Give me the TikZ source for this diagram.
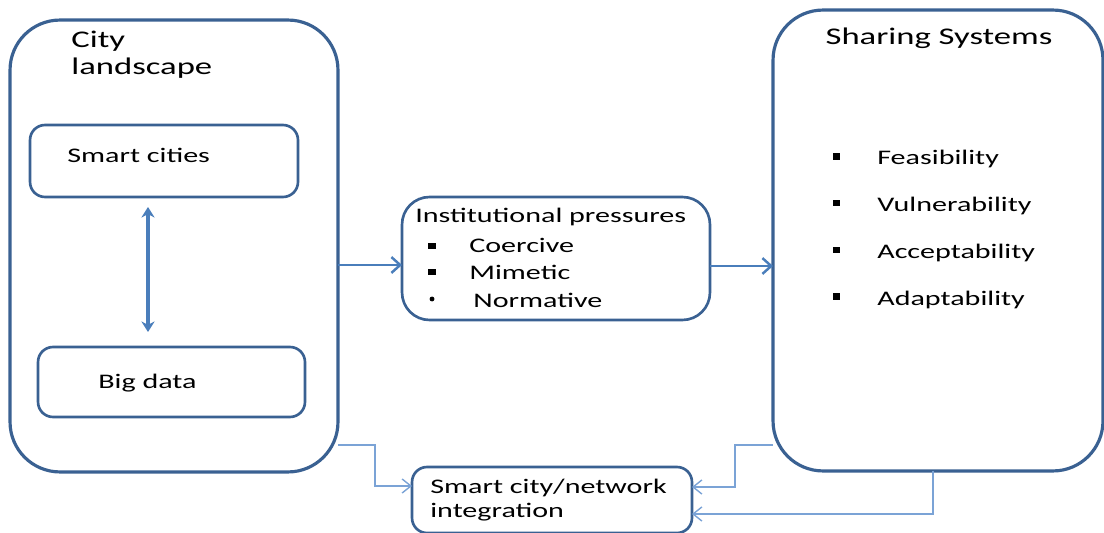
\documentclass[tikz,border=0pt]{standalone}
\usepackage{fontspec}
\setmainfont{Carlito}[FakeStretch=1.45]
\usetikzlibrary{arrows.meta,positioning}
\definecolor{boxblue}{HTML}{3A6192}
\definecolor{arrowblue}{HTML}{4A7EBB}
\definecolor{lineblue}{HTML}{7BA3D6}

\begin{document}
\begin{tikzpicture}[x=0.02cm,y=-0.02cm,
  bigframe/.style={draw=boxblue,line width=1.8pt,rounded corners=1cm,inner sep=0pt,outer sep=0pt},
  subframe/.style={draw=boxblue,line width=1.5pt,rounded corners=0.3cm,inner sep=0pt,outer sep=0pt},
  midframe/.style={draw=boxblue,line width=1.5pt,rounded corners=0.55cm,inner sep=0pt,outer sep=0pt},
  title/.style={inner sep=0pt,align=left,font=\fontsize{13.6pt}{15.3pt}\selectfont},
  txt/.style={inner sep=0pt,align=left,font=\fontsize{11.8pt}{13.6pt}\selectfont},
  sq/.style={fill=black,inner sep=0pt,minimum width=4pt,minimum height=3.6pt},
  dot/.style={circle,fill=black,inner sep=0pt,minimum size=2.8pt},
  flow/.style={arrowblue,line width=1.4pt,-{Straight Barb[length=5pt,width=9pt]}},
  link/.style={lineblue,line width=0.8pt,-{Straight Barb[length=5pt,width=8pt]}},
  both/.style={arrowblue,line width=2.2pt,{Stealth[length=6pt,width=7.5pt]}-{Stealth[length=6pt,width=7.5pt]}}]
\useasboundingbox (0,0) rectangle (1104,533);

% outer boxes
\node[bigframe,minimum width=6.56cm,minimum height=9.04cm] (city) at (174,246) {};
\node[bigframe,minimum width=6.6cm,minimum height=9.22cm] (share) at (938,240.5) {};
\node[title,anchor=north west] (citytxt) at (71,31) {City\\landscape};
\node[title,anchor=base] (sharetxt) at (939,45) {Sharing Systems};

% inner boxes of the city landscape
\node[subframe,minimum width=5.36cm,minimum height=1.44cm] (smart) at (164,161) {};
\node[subframe,minimum width=5.34cm,minimum height=1.4cm] (bigdata) at (171.5,382) {};
\node[txt,anchor=base west] (smarttxt) at (67,163) {Smart cities};
\node[txt,anchor=base west] (bigtxt) at (98,388) {Big data};
\coordinate (stem) at (148,0);
\draw[both,shorten <=10*0.02cm,shorten >=15*0.02cm] (smart.south -| stem) -- (bigdata.north -| stem);

% institutional pressures
\node[midframe,minimum width=6.16cm,minimum height=2.46cm] (inst) at (556,258.5) {};
\node[txt,anchor=base west] (insttxt) at (415,223) {Institutional pressures};
\node[txt,anchor=base west] (coer) at (469,253) {Coercive};
\node[txt,anchor=base west] (mime) at (469,279) {Mimetic};
\node[txt,anchor=base west] (norm) at (473,307) {Normative};
\node[sq] (sq1) at (432,246) {};
\node[sq] (sq2) at (432,272) {};
\node[dot] (dt3) at (432,299) {};

% criteria list
\foreach \lbl [count=\i] in {Feasibility,Vulnerability,Acceptability,Adaptability}{
  \node[txt,anchor=base west] (crit\i) at (877,{165+46.7*(\i-1)}) {\lbl};
  \node[sq] (bul\i) at (836.5,{156.5+46.7*(\i-1)}) {};
}

% integration box
\node[subframe,minimum width=5.6cm,minimum height=1.32cm] (integ) at (552,500) {};
\node[txt,anchor=north west] (integtxt) at (430,479) {Smart city/network\\integration};

% connectors
\draw[flow] (city.east |- 0,265) -- (inst.west |- 0,265);
\draw[flow] (inst.east |- 0,266) -- (share.west |- 0,266);
\draw[link] (city.east |- 0,445) -| (375,486) -- (integ.west |- 0,486);
\draw[link] (share.west |- 0,445) -| (735,487) -- (integ.east |- 0,487);
\draw[link] (share.south -| 933,0) |- (integ.east |- 0,514);
\end{tikzpicture}
\end{document}
